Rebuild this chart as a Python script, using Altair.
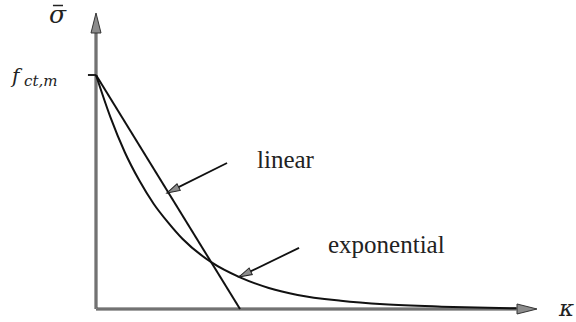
import math
import altair as alt
import pandas as pd

# Softening curve: exponential branch (kappa, normalised stress)
kappa_exp = [0.0, 0.1, 0.2, 0.3, 0.4, 0.5, 0.6, 0.8, 1.0, 1.2, 1.4, 1.7, 2.0, 2.4, 2.8, 2.92]
sigma_exp = [1.0, 0.82, 0.67, 0.55, 0.45, 0.37, 0.30, 0.20, 0.135, 0.09, 0.06, 0.035, 0.02, 0.01, 0.004, 0.003]

# Linear branch
kappa_lin = [0.0, 1.0]
sigma_lin = [1.0, 0.0]

# Annotation arrows (start -> tip) and their labels
arrow_names = ["linear", "exponential"]
arrow_k0 = [0.910, 1.410]
arrow_s0 = [0.624, 0.261]
arrow_k1 = [0.493, 0.993]
arrow_s1 = [0.496, 0.137]
label_k = [1.118, 1.611]
label_s = [0.603, 0.239]

# Axis extents
x_axis_end, x_axis_tip = 2.92, 3.0625
y_axis_end, y_axis_tip = 1.18, 1.265

W, H = 576, 322
X_DOMAIN = [-0.6667, 3.3333]
Y_DOMAIN = [-0.0556, 1.3205]
px_x = W / (X_DOMAIN[1] - X_DOMAIN[0])
px_y = H / (Y_DOMAIN[1] - Y_DOMAIN[0])

xs = alt.Scale(domain=X_DOMAIN, nice=False, zero=False)
ys = alt.Scale(domain=Y_DOMAIN, nice=False, zero=False)

def X(f="k"):
    return alt.X(f"{f}:Q", scale=xs, axis=None)

def Y(f="s"):
    return alt.Y(f"{f}:Q", scale=ys, axis=None)

def heading(dk, ds):
    dx, dy = dk * px_x, -ds * px_y
    return math.degrees(math.atan2(dx, -dy)) % 360

AXIS_COL = "#4a4a4a"
HEAD_PATH_AXIS = "M0,0L-0.25,1L0.25,1Z"
HEAD_PATH_NOTE = "M0,0L-0.28,1L0.28,1Z"
SERIF = "Liberation Serif, Times New Roman, DejaVu Serif, serif"

# Axes
axes_df = pd.DataFrame({
    "k": [0.0, 0.0], "s": [0.0, 0.0],
    "k2": [x_axis_end, 0.0], "s2": [0.0, y_axis_end],
})
axes = alt.Chart(axes_df).mark_rule(color=AXIS_COL, strokeWidth=3).encode(
    x=X(), y=Y(), x2="k2:Q", y2="s2:Q"
)
axes_inner = alt.Chart(axes_df).mark_rule(color="#9a9a9a", strokeWidth=1).encode(
    x=X(), y=Y(), x2="k2:Q", y2="s2:Q"
)

axis_heads_df = pd.DataFrame({
    "k": [x_axis_tip, 0.0], "s": [0.0, y_axis_tip], "angle": [90, 0]
})
axis_heads = alt.Chart(axis_heads_df).mark_point(
    shape=HEAD_PATH_AXIS, filled=True, size=1600, fill="#8c8c8c",
    stroke="#333333", strokeWidth=1, opacity=1
).encode(x=X(), y=Y(), angle=alt.Angle("angle:Q", scale=None))

# Tick marking f_ct,m
tick_df = pd.DataFrame({"k": [-0.056], "k2": [0.0], "s": [1.0]})
tick = alt.Chart(tick_df).mark_rule(color="#222", strokeWidth=2).encode(
    x=X(), x2="k2:Q", y=Y()
)

# Curves
exp_df = pd.DataFrame({"k": kappa_exp, "s": sigma_exp})
lin_df = pd.DataFrame({"k": kappa_lin, "s": sigma_lin})
exp_line = alt.Chart(exp_df).mark_line(
    color="#111", strokeWidth=2, interpolate="monotone"
).encode(x=X(), y=Y(), order="k:Q")
lin_line = alt.Chart(lin_df).mark_line(color="#111", strokeWidth=2).encode(
    x=X(), y=Y()
)

# Annotation arrows
arr_df = pd.DataFrame({
    "name": arrow_names, "k": arrow_k0, "s": arrow_s0,
    "k2": arrow_k1, "s2": arrow_s1,
})
arr_df["angle"] = [heading(a1 - a0, b1 - b0) for a0, b0, a1, b1 in
                   zip(arrow_k0, arrow_s0, arrow_k1, arrow_s1)]
arr_lines = alt.Chart(arr_df).mark_rule(color="#111", strokeWidth=1.8).encode(
    x=X(), y=Y(), x2="k2:Q", y2="s2:Q"
)
arr_heads = alt.Chart(arr_df).mark_point(
    shape=HEAD_PATH_NOTE, filled=True, size=676, fill="#8c8c8c",
    stroke="#222", strokeWidth=1, opacity=1
).encode(x=X("k2"), y=Y("s2"), angle=alt.Angle("angle:Q", scale=None))

labels_df = pd.DataFrame({"name": arrow_names, "k": label_k, "s": label_s})
labels = alt.Chart(labels_df).mark_text(
    font=SERIF, fontSize=25, align="left", baseline="alphabetic",
    color="#222"
).encode(x=X(), y=Y(), text="name:N")

# Axis symbols (italic serif)
SYM_FONT = "DejaVu Serif"

def symbol(text, k, s, size):
    df = pd.DataFrame({"t": [text], "k": [k], "s": [s]})
    return alt.Chart(df).mark_text(
        font=SYM_FONT, fontStyle="italic", fontSize=size, align="left",
        baseline="alphabetic", color="#222"
    ).encode(x=X(), y=Y(), text="t:N")

sigma_sym = symbol("\u03c3", -0.326, 1.222, 25)
f_sym = symbol("f", -0.583, 0.966, 20)
sub_sym = symbol("ct,m", -0.500, 0.951, 15)
kappa_sym = symbol("\u03ba", 3.215, -0.030, 23)

# Bar over sigma
macron_df = pd.DataFrame({"k": [-0.299], "k2": [-0.229], "s": [1.297]})
macron = alt.Chart(macron_df).mark_rule(color="#222", strokeWidth=1.5).encode(
    x=X(), x2="k2:Q", y=Y()
)

chart = alt.layer(
    axes, axes_inner, axis_heads, tick, lin_line, exp_line,
    arr_lines, arr_heads, labels, sigma_sym, macron, f_sym, sub_sym, kappa_sym
).properties(
    width=W, height=H, padding=0, autosize=alt.AutoSizeParams(type="none")
).configure_view(stroke=None)

chart.save("out.html", embed_options={"renderer": "svg", "actions": False})
